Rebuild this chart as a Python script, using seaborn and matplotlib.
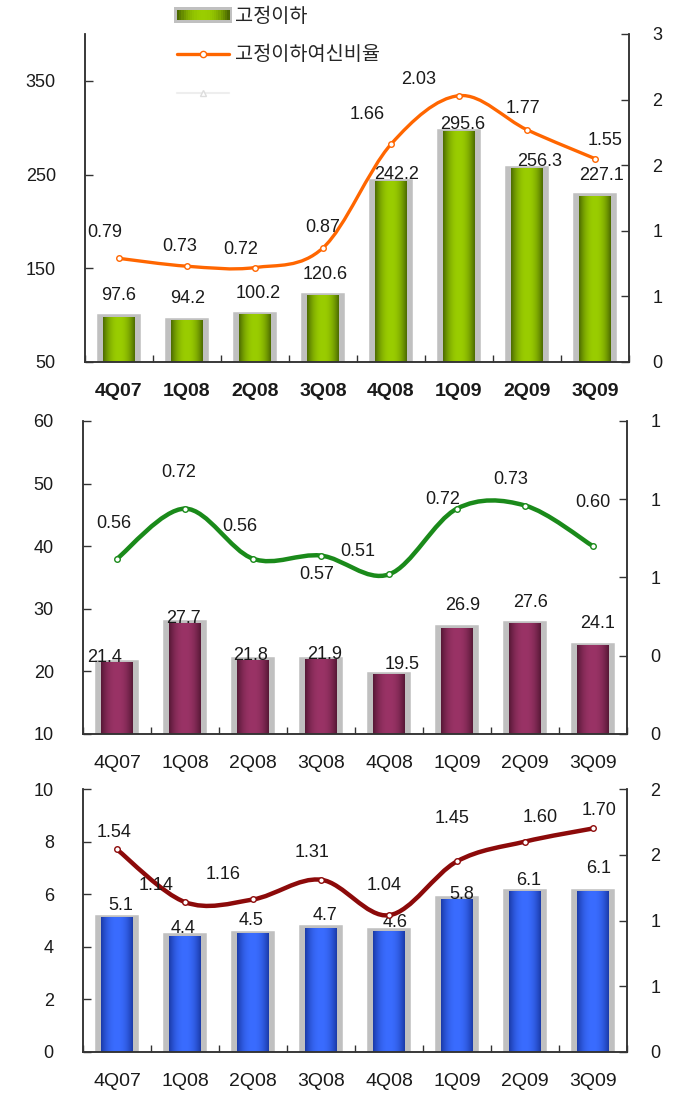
import numpy as np
import pandas as pd
import matplotlib
matplotlib.use("Agg")
import matplotlib.pyplot as plt
import seaborn as sns
from matplotlib.path import Path
from matplotlib.patches import PathPatch, Rectangle
from matplotlib.lines import Line2D
from matplotlib.legend_handler import HandlerBase
from matplotlib.colors import LinearSegmentedColormap
from matplotlib.ticker import FuncFormatter


# 1. DATA

quarters = ["4Q07", "1Q08", "2Q08", "3Q08", "4Q08", "1Q09", "2Q09", "3Q09"]

top_amount = [97.6, 94.2, 100.2, 120.6, 242.2, 295.6, 256.3, 227.1]
top_ratio = [0.79, 0.73, 0.72, 0.87, 1.66, 2.03, 1.77, 1.55]

mid_amount = [21.4, 27.7, 21.8, 21.9, 19.5, 26.9, 27.6, 24.1]
mid_ratio = [0.56, 0.72, 0.56, 0.57, 0.51, 0.72, 0.73, 0.60]

bot_amount = [5.1, 4.4, 4.5, 4.7, 4.6, 5.8, 6.1, 6.1]
bot_ratio = [1.54, 1.14, 1.16, 1.31, 1.04, 1.45, 1.60, 1.70]

legend_labels = ["고정이하", "고정이하여신비율", ""]

# label offsets in pixels (dx right, dy down) as placed in the original
top_bar_off = [(0, -22), (1, -22), (3, -21), (2, -21), (6, -7), (4, -7), (13, -7), (6, -21)]
top_line_off = [(-14, -26), (-7, -20), (-14, -18), (0, -20), (-24, -30), (-40, -16), (-4, -21), (10, -18)]
mid_bar_off = [(-12, -5), (-2, -5), (-2, -5), (4, -5), (13, -10), (6, -23), (6, -21), (5, -22)]
mid_line_off = [(-3, -35), (-6, -36), (-13, -32), (-4, 19), (-31, -23), (-14, -9), (-14, -26), (0, -44)]
bot_bar_off = [(4, -12), (-2, -8), (-2, -13), (4, -13), (6, -9), (5, -5), (4, -11), (6, -23)]
bot_line_off = [(-3, -17), (-29, -17), (-30, -25), (-9, -27), (-5, -30), (-5, -43), (15, -24), (6, -18)]


# 2. STYLE

sns.set_theme(style="ticks")
plt.rcParams["font.family"] = ["Liberation Sans", "Noto Sans CJK KR"]

GRAY = "#c0c0c0"
AXIS = "#333333"
TXT = "#1a1a1a"


def gradient(n=64):
    t = np.linspace(0, 1, n)
    return 1 - np.abs(2 * t - 1) ** 2.2


def half_up(v, pos):
    return str(int(np.floor(v + 0.5 + 1e-9)))


def smooth_path(x, y):
    pts = np.column_stack([x, y]).astype(float)
    ext = np.vstack([pts[0], pts, pts[-1]])
    verts = [pts[0]]
    codes = [Path.MOVETO]
    for i in range(len(pts) - 1):
        p0, p1, p2, p3 = ext[i], ext[i + 1], ext[i + 2], ext[i + 3]
        verts += [p1 + (p2 - p0) / 6, p2 - (p3 - p1) / 6, p2]
        codes += [Path.CURVE4] * 3
    return Path(verts, codes)


class GradientBarHandler(HandlerBase):
    def __init__(self, cmap):
        super().__init__()
        self.cmap = cmap

    def create_artists(self, legend, orig_handle, xdescent, ydescent,
                       width, height, fontsize, trans):
        arts = [Rectangle((-xdescent - 2, -ydescent - 2), width + 4, height + 4,
                          facecolor=GRAY, edgecolor="none", transform=trans)]
        g = gradient(24)
        n = len(g)
        for i in range(n):
            arts.append(Rectangle((-xdescent + i * width / n, -ydescent),
                                  width / n + 0.4, height,
                                  facecolor=self.cmap(g[i]), edgecolor="none",
                                  transform=trans))
        return arts


def draw_panel(ax, amounts, ratios, ylim, yticks, rmax, rstep,
               dark, light, line_color, line_w, bar_off, line_off, bold_x=False):
    cmap = LinearSegmentedColormap.from_list("g", [dark, light])
    df = pd.DataFrame({"quarter": quarters, "amount": amounts})
    sns.barplot(data=df, x="quarter", y="amount", ax=ax, width=0.56,
                color=GRAY, edgecolor=GRAY, linewidth=4, saturation=1)
    grad = gradient()[None, :]
    for p in list(ax.patches):
        x0, w = p.get_x(), p.get_width()
        top = p.get_y() + p.get_height()
        ax.imshow(grad, cmap=cmap, vmin=0, vmax=1, aspect="auto",
                  extent=[x0 + 0.05, x0 + w - 0.05, ylim[0], top],
                  interpolation="bicubic", zorder=p.get_zorder() + 0.1)
    ax.set_xlim(-0.5, len(quarters) - 0.5)
    ax.set_ylim(*ylim)
    ax.set_yticks(yticks)
    ax.set_xlabel("")
    ax.set_ylabel("")

    for i, v in enumerate(amounts):
        dx, dy = bar_off[i]
        ax.annotate(f"{v:.1f}", (i, v), xytext=(dx, -dy), textcoords="offset pixels",
                    ha="center", va="center", fontsize=13, color=TXT, zorder=6)

    ax.set_xticks(range(len(quarters)))
    ax.set_xticklabels(quarters, fontweight="bold" if bold_x else "normal")
    ax.set_xticks(np.arange(-0.5, len(quarters), 1), minor=True)
    ax.tick_params(axis="x", which="major", length=0, pad=15, labelsize=14, colors=TXT)
    ax.tick_params(axis="x", which="minor", direction="in", length=5, width=1,
                   color=AXIS, bottom=True)
    ax.tick_params(axis="y", direction="in", length=6, width=1, pad=21,
                   labelsize=13, color=AXIS, labelcolor=TXT)

    ax2 = ax.twinx()
    xs = np.arange(len(ratios))
    ax2.add_patch(PathPatch(smooth_path(xs, ratios), facecolor="none",
                            edgecolor=line_color, lw=line_w, capstyle="round",
                            joinstyle="round", zorder=4))
    sns.scatterplot(x=xs, y=ratios, ax=ax2, s=16, color="white",
                    edgecolor=line_color, linewidth=1, zorder=5)
    ax2.set_ylim(0, rmax)
    ax2.set_yticks(np.arange(0, rmax + 1e-6, rstep))
    ax2.yaxis.set_major_formatter(FuncFormatter(half_up))
    ax2.tick_params(axis="y", direction="in", length=6, width=1, pad=17,
                    labelsize=13, color=AXIS, labelcolor=TXT, right=True)
    for i, v in enumerate(ratios):
        dx, dy = line_off[i]
        ax2.annotate(f"{v:.2f}", (i, v), xytext=(dx, -dy), textcoords="offset pixels",
                     ha="center", va="center", fontsize=13, color=TXT, zorder=6)

    for a in (ax, ax2):
        a.spines["top"].set_visible(False)
        for s in ("left", "right", "bottom"):
            a.spines[s].set_color(AXIS)
            a.spines[s].set_linewidth(1.1)
    return cmap


# 3. FIGURE

W, H = 677, 1093
fig = plt.figure(figsize=(W / 100, H / 100), dpi=100)
fig.patch.set_facecolor("white")

ax_top = fig.add_axes([85 / W, 1 - 362 / H, 544 / W, 328 / H])
ax_mid = fig.add_axes([83 / W, 1 - 734 / H, 544 / W, 313 / H])
ax_bot = fig.add_axes([83 / W, 1 - 1052 / H, 544 / W, 263 / H])

green_cmap = draw_panel(ax_top, top_amount, top_ratio, (50, 400), [50, 150, 250, 350],
                        2.5, 0.5, "#4c6a00", "#9acd00", "#ff6600", 2.4,
                        top_bar_off, top_line_off, bold_x=True)
draw_panel(ax_mid, mid_amount, mid_ratio, (10, 60), [10, 20, 30, 40, 50, 60],
           1.0, 0.25, "#561836", "#9a3366", "#1a8a1a", 3.2,
           mid_bar_off, mid_line_off)
draw_panel(ax_bot, bot_amount, bot_ratio, (0, 10), [0, 2, 4, 6, 8, 10],
           2.0, 0.5, "#1a3aa8", "#3a6cff", "#8c0a0a", 3.2,
           bot_bar_off, bot_line_off)

bar_handle = Rectangle((0, 0), 1, 1)
line_handle = Line2D([], [], color="#ff6600", lw=2.4, marker="o", markersize=4.5,
                     markerfacecolor="white", markeredgecolor="#ff6600")
blank_handle = Line2D([], [], color="#eeeeee", lw=1.5, marker="^", markersize=5,
                      markerfacecolor="white", markeredgecolor="#dddddd")
fig.legend(handles=[bar_handle, line_handle, blank_handle], labels=legend_labels,
           handler_map={bar_handle: GradientBarHandler(green_cmap)},
           loc="upper left", bbox_to_anchor=(177 / W, 1 - 7 / H), frameon=False,
           fontsize=14.2, handlelength=2.65, handleheight=0.42, handletextpad=0.3,
           labelspacing=0.98, borderpad=0, borderaxespad=0)

fig.savefig("out.png", dpi=100, facecolor="white")
